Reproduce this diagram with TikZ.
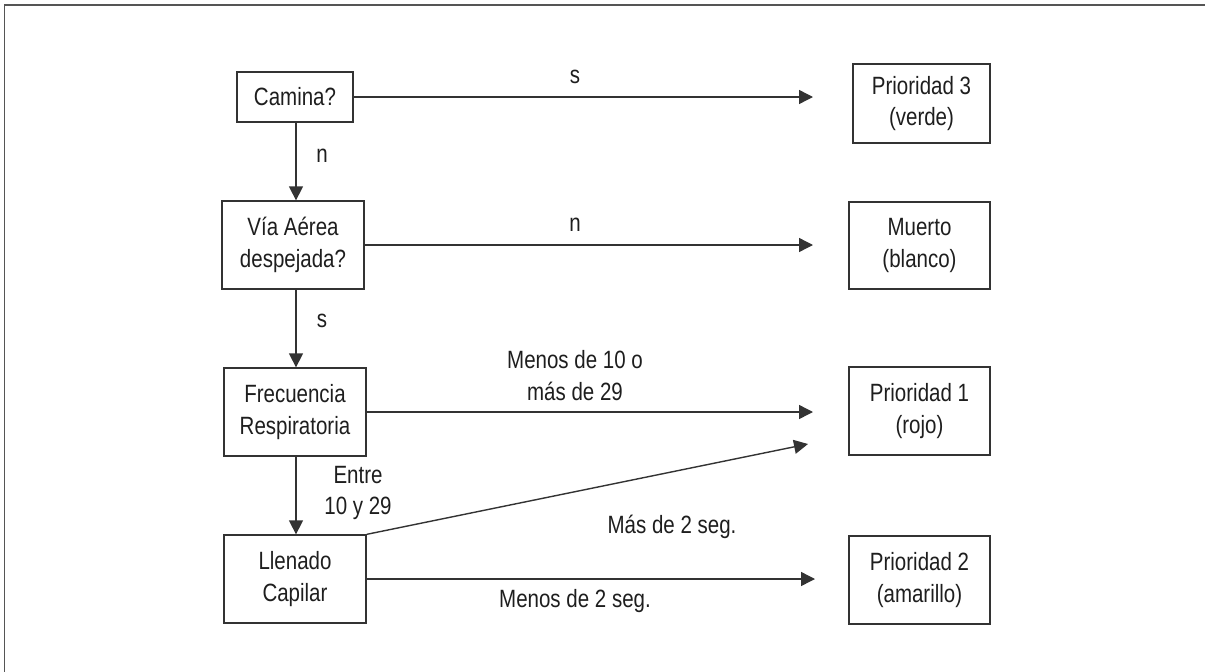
\documentclass[tikz,border=0pt]{standalone}
\usepackage{fontspec}
\setmainfont{Liberation Sans}[FakeStretch=0.82]
\usetikzlibrary{arrows.meta}
\definecolor{ink}{HTML}{1E1E1E}
\definecolor{linecol}{HTML}{333333}
\definecolor{framecol}{HTML}{555555}
\begin{document}
\begin{tikzpicture}[x=1pt,y=-1pt,
  every node/.style={font=\fontsize{25pt}{31.5pt}\selectfont, text=ink},
  box/.style={draw=linecol, line width=1.3pt, rectangle, align=center, inner sep=0pt},
  lbl/.style={anchor=base, align=center, inner sep=0pt},
  conn/.style={draw=linecol, line width=1.4pt, -{Triangle[length=14pt,width=14pt]}}]
\useasboundingbox (0,0) rectangle (1205,672);
\draw[framecol, line width=1.3pt] (4.5,672) -- (4.5,5) -- (1205,5);
% left column
\node[box, minimum width=116pt, minimum height=50pt] (camina) at (295,97) {Camina?};
\node[box, minimum width=142pt, minimum height=88pt] (via) at (293,245) {Vía Aérea\\despejada?};
\node[box, minimum width=142pt, minimum height=88pt] (frec) at (295,412) {Frecuencia\\Respiratoria};
\node[box, minimum width=142pt, minimum height=88pt] (llen) at (295,579) {Llenado\\Capilar};
% right column
\node[box, minimum width=137pt, minimum height=79pt] (p3) at (921.5,103.5) {Prioridad 3\\(verde)};
\node[box, minimum width=141pt, minimum height=87pt] (muerto) at (919.5,245.5) {Muerto\\(blanco)};
\node[box, minimum width=141pt, minimum height=88pt] (p1) at (919.5,411) {Prioridad 1\\(rojo)};
\node[box, minimum width=141pt, minimum height=88pt] (p2) at (919.5,580) {Prioridad 2\\(amarillo)};
% free ends
\coordinate (e1) at (813,97);
\coordinate (e2) at (813,245);
\coordinate (e3) at (813,412);
\coordinate (e4) at (808,444);
\coordinate (e5) at (815,579);
% connectors
\draw[conn] (camina.east) -- (e1);
\draw[conn] (via.east) -- (e2);
\draw[conn] (frec.east) -- (e3);
\draw[conn] (llen.north east) -- (e4);
\draw[conn] (llen.east) -- (e5);
\draw[conn] (camina.south -| 296,0) -- (via.north -| 296,0);
\draw[conn] (via.south -| 296,0) -- (frec.north -| 296,0);
\draw[conn] (frec.south -| 296,0) -- (llen.north -| 296,0);
% labels
\node[lbl] (l1) at (575,83) {s};
\node[lbl] (l2) at (322,162) {n};
\node[lbl] (l3) at (575,231) {n};
\node[lbl] (l4) at (322,327) {s};
\node[lbl] (l5a) at (575,368) {Menos de 10 o};
\node[lbl] (l5b) at (575,400) {más de 29};
\node[lbl] (l6a) at (358,483) {Entre};
\node[lbl] (l6b) at (358,514) {10 y 29};
\node[lbl] (l7) at (672,533) {Más de 2 seg.};
\node[lbl] (l8) at (575,607) {Menos de 2 seg.};
\end{tikzpicture}
\end{document}
